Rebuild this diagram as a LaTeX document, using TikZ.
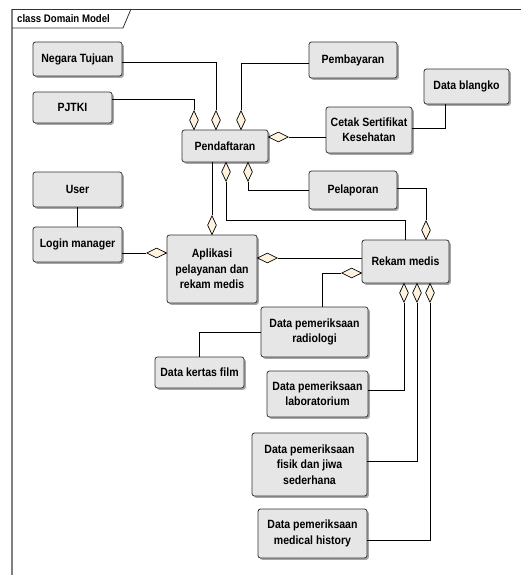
\documentclass[tikz,border=0pt]{standalone}
\usepackage{fontspec}
\setmainfont{Liberation Sans}[FakeStretch=0.88]
\usetikzlibrary{shapes.geometric,shadows}
\definecolor{boxfill}{HTML}{E6E6E6}
\definecolor{diafill}{HTML}{FFF3E0}
\definecolor{boxline}{HTML}{333333}
\begin{document}
\begin{tikzpicture}[x=1bp,y=-1bp,
  cls/.style={draw=boxline, line width=0.8bp, fill=boxfill, rounded corners=2.5bp,
    align=center, inner sep=0pt, font=\bfseries\fontsize{12}{15.5}\selectfont,
    drop shadow={shadow xshift=1.8bp, shadow yshift=-1.8bp, fill=black!35, opacity=1}},
  vdia/.style={diamond, draw=black, fill=diafill, line width=0.7bp, inner sep=0pt,
    minimum width=9bp, minimum height=19bp},
  hdia/.style={diamond, draw=black, fill=diafill, line width=0.7bp, inner sep=0pt,
    minimum width=20bp, minimum height=10bp},
  conn/.style={draw=black, line width=0.7bp}]
\useasboundingbox (0,0) rectangle (521,575);

% frame
\draw[black!50, line width=1.5bp] (12,9) -- (12,575);
\draw[black!80, line width=0.8bp] (12,9) -- (521,9);
\draw[black!80, line width=0.8bp] (12,28) -- (123,28) -- (131,9);
\node[anchor=west, inner sep=0pt, font=\bfseries\fontsize{11}{12}\selectfont] (title) at (17,19) {class Domain Model};

% classes
\node[cls, minimum width=89bp, minimum height=34bp] (neg) at (77.5,59) {Negara Tujuan};
\node[cls, minimum width=79bp, minimum height=31bp] (pjtki) at (72.5,107.5) {PJTKI};
\node[cls, minimum width=86bp, minimum height=32bp] (pend) at (225,146) {Pendaftaran};
\node[cls, minimum width=89bp, minimum height=35bp] (user) at (77.5,189.5) {User};
\node[cls, minimum width=89bp, minimum height=35bp] (login) at (77.5,244.5) {Login manager};
\node[cls, minimum width=90bp, minimum height=68bp] (apl) at (212,269) {Aplikasi\\pelayanan dan\\rekam medis};
\node[cls, minimum width=88bp, minimum height=36bp] (pemb) at (353,60) {Pembayaran};
\node[cls, minimum width=85bp, minimum height=35bp] (blangko) at (466.5,86.5) {Data blangko};
\node[cls, minimum width=86bp, minimum height=46bp] (cetak) at (369,130) {Cetak Sertifikat\\Kesehatan};
\node[cls, minimum width=88bp, minimum height=38bp] (pelap) at (353,190) {Pelaporan};
\node[cls, minimum width=87bp, minimum height=43bp] (rekam) at (405.5,261.5) {Rekam medis};
\node[cls, minimum width=107bp, minimum height=50bp] (radio) at (314.5,332) {Data pemeriksaan\\radiologi};
\node[cls, minimum width=89bp, minimum height=31bp] (film) at (199.5,372.5) {Data kertas film};
\node[cls, minimum width=101bp, minimum height=46bp] (lab) at (317.5,394) {Data pemeriksaan\\laboratorium};
\node[cls, minimum width=115bp, minimum height=63bp] (fisik) at (309.5,464.5) {Data pemeriksaan\\fisik dan jiwa\\sederhana};
\node[cls, minimum width=109bp, minimum height=49bp] (hist) at (312.5,533.5) {Data pemeriksaan\\medical history};

% aggregation diamonds
\node[vdia, anchor=south] (dP) at (194,130) {};
\node[vdia, anchor=south] (dN) at (216,130) {};
\node[vdia, anchor=south] (dB) at (241,130) {};
\node[hdia, anchor=west] (dC) at (268,137) {};
\node[vdia, anchor=north] (dR1) at (226,162) {};
\node[vdia, anchor=north] (dL) at (248,162) {};
\node[vdia, anchor=south] (dA) at (212,235) {};
\node[vdia, anchor=south] (dPR) at (426,240) {};
\node[hdia, anchor=east] (dLg) at (167,253) {};
\node[hdia, anchor=west] (dAR) at (257,258) {};
\node[hdia, anchor=east] (dRr) at (362,273) {};
\node[vdia, anchor=north] (dRb1) at (404,283) {};
\node[vdia, anchor=north] (dRb2) at (417,283) {};
\node[vdia, anchor=north] (dRb3) at (430,283) {};

% helper levels
\coordinate (hN) at (0,62);
\coordinate (hP) at (0,99);
\coordinate (hB) at (0,63);
\coordinate (vBl) at (445,0);
\coordinate (hBl) at (0,128);
\coordinate (hR) at (0,220);
\coordinate (hPl) at (0,188);
\coordinate (vRa) at (322,0);
\coordinate (hLa) at (0,390);
\coordinate (hFi) at (0,461);
\coordinate (hHi) at (0,540);

% connectors
\draw[conn] (neg.east |- hN) -| (dN.north);
\draw[conn] (pjtki.east |- hP) -| (dP.north);
\draw[conn] (pemb.west |- hB) -| (dB.north);
\draw[conn] (cetak.west |- dC.east) -- (dC.east);
\draw[conn] (blangko.south -| vBl) |- (cetak.east |- hBl);
\draw[conn] (pend.south -| dA.north) -- (dA.north);
\draw[conn] (dR1.south) |- (rekam.north |- hR) -- (rekam.north);
\draw[conn] (dL.south) |- (pelap.west);
\draw[conn] (pelap.east |- hPl) -| (dPR.north);
\draw[conn] (user) -- (login);
\draw[conn] (login.east |- dLg.west) -- (dLg.west);
\draw[conn] (rekam.west |- dAR.east) -- (dAR.east);
\draw[conn] (dRr.west) -| (radio.north -| vRa);
\draw[conn] (radio.west) -| (film.north);
\draw[conn] (lab.east |- hLa) -| (dRb1.south);
\draw[conn] (fisik.east |- hFi) -| (dRb2.south);
\draw[conn] (hist.east |- hHi) -| (dRb3.south);
\end{tikzpicture}
\end{document}
